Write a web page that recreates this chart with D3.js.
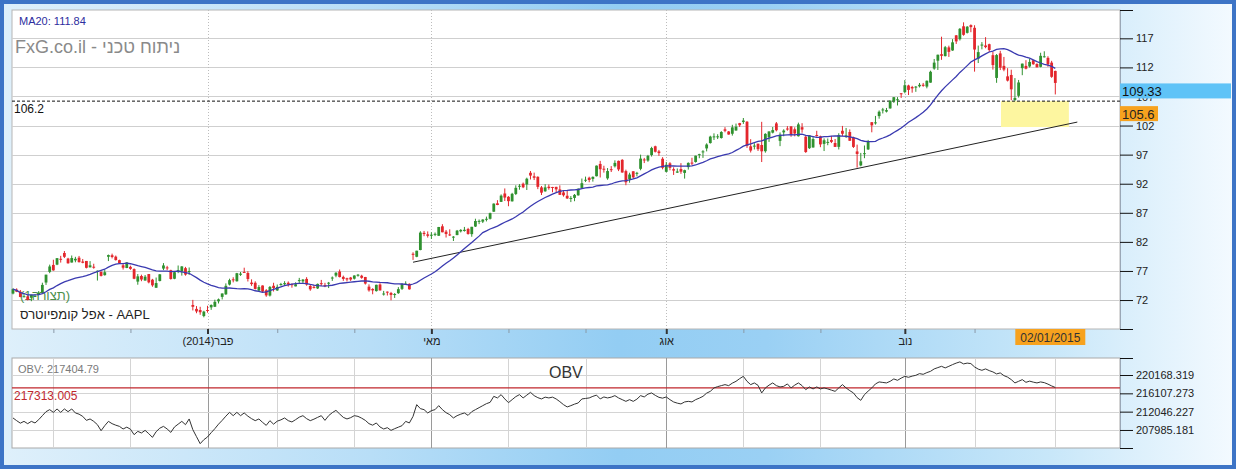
<!DOCTYPE html>
<html><head><meta charset="utf-8">
<script src="https://cdn.jsdelivr.net/npm/d3@7"></script>
<style>body{margin:0;background:#fff}svg{display:block;font-family:"Liberation Sans",Arial,sans-serif}</style>
</head><body><svg id="c" width="1236" height="469"></svg>
<script>
// ---- daily candles, 14 Nov 2013 .. 02 Jan 2015 (index = trading day) ----
const opens = [
73.12,73.78,73.43,72.59,72.62,72.39,72.66,72.87,73.30,75.01,
76.85,78.04,78.09,79.09,80.09,79.13,78.45,78.82,79.28,78.62,
78.72,77.62,77.73,76.88,76.85,76.28,79.44,79.70,79.46,78.86,
77.97,77.51,77.71,77.32,75.17,76.13,75.35,76.47,75.50,74.11,
75.28,77.41,77.61,77.13,75.66,77.05,76.91,77.48,76.93,71.15,
70.48,70.28,69.25,70.29,70.74,70.85,
71.78,72.54,72.98,74.66,75.56,75.23,76.34,76.83,76.65,75.00,
74.97,73.62,74.50,73.68,72.77,74.45,73.65,74.72,74.71,74.97,
74.73,74.35,75.34,75.21,75.63,74.41,74.26,74.00,74.90,74.56,
74.85,75.77,76.20,76.90,75.98,75.75,75.87,75.67,76.32,76.18,
75.96,74.30,73.90,73.54,74.67,73.03,73.44,73.21,72.90,73.18,
73.92,74.82,74.79,79.95,79.44,80.60,83.55,83.29,83.13,83.36,
83.05,84.68,83.76,
83.28,82.76,83.17,83.81,83.88,84.21,83.33,84.64,85.58,85.48,
85.88,85.97,87.19,88.63,88.88,90.32,89.75,88.97,90.24,91.48,
92.00,91.87,93.88,93.28,93.19,91.37,90.69,91.48,91.44,91.46,
91.02,90.50,89.93,89.40,89.56,90.00,91.27,92.68,93.03,92.83,
93.29,95.40,94.58,92.92,94.50,95.00,95.93,96.10,94.17,92.78,
94.14,93.83,94.56,96.17,95.98,96.94,98.44,97.55,96.29,94.05,
95.50,94.50,93.90,
94.52,93.86,94.86,95.63,95.74,96.91,97.48,98.07,98.99,100.01,
100.14,99.86,101.35,100.98,100.59,101.15,102.42,102.62,102.66,98.43,
98.38,98.88,98.66,97.59,99.98,100.78,102.37,99.37,100.83,101.49,
101.85,101.36,100.17,101.72,100.08,98.11,98.23,100.38,100.16,98.85,
99.02,99.52,99.00,98.34,101.10,100.26,100.89,99.96,97.55,95.14,
97.08,97.90,102.58,102.40,103.63,104.73,104.40,104.95,106.20,106.50,
107.55,107.75,108.89,108.63,
108.60,108.75,109.02,108.70,109.38,111.80,113.15,114.27,113.94,115.44,
114.91,117.51,116.85,119.07,117.94,119.27,118.81,113.50,115.75,115.77,
115.99,114.10,110.19,114.41,112.26,110.46,110.70,106.37,107.12,111.87,
112.26,112.16,113.23,112.58,112.10,113.79,113.64,112.82,111.39];
const highs = [
74.02,74.01,73.73,73.20,72.79,72.90,73.02,73.54,74.98,76.36,
78.09,78.93,79.21,79.60,80.43,79.26,79.66,79.43,79.58,79.06,
78.72,78.69,78.24,77.09,76.92,77.15,79.82,79.98,79.65,78.94,
78.33,78.50,77.91,77.44,76.47,76.36,76.30,76.48,75.64,75.87,
76.46,78.35,77.88,77.21,76.93,77.94,77.83,77.70,77.60,72.03,
70.96,70.84,70.15,71.01,71.25,72.06,
72.26,73.13,74.86,75.67,75.92,76.67,76.82,77.56,76.96,75.56,
75.22,74.56,74.52,73.88,74.41,74.97,74.67,74.95,75.24,75.20,
74.85,75.05,75.81,75.61,75.93,74.70,74.57,74.84,75.46,74.96,
75.11,76.05,76.79,77.25,76.20,75.84,75.97,76.25,76.48,76.34,
75.98,74.70,74.03,74.64,74.89,73.57,73.47,73.40,73.20,74.22,
74.88,75.22,74.86,80.21,80.48,83.83,83.88,83.80,83.66,83.62,
84.57,85.04,84.05,
84.16,83.00,84.05,84.19,84.57,84.41,84.59,85.98,85.85,85.89,
86.34,87.03,88.61,89.17,90.16,91.19,89.87,90.43,91.73,91.94,
92.20,93.04,94.19,93.91,93.27,91.61,91.92,91.87,91.46,91.47,
91.72,90.80,90.91,89.88,90.23,91.17,92.89,93.22,93.21,93.25,
95.13,95.93,95.09,94.69,95.03,96.02,95.98,96.23,94.42,93.89,
94.15,94.04,97.00,96.44,96.96,98.35,98.54,97.81,96.57,95.75,
95.71,94.82,94.62,
95.54,94.41,95.67,96.46,96.82,97.15,97.77,98.95,100.25,100.66,
100.51,101.04,101.73,101.06,102.13,102.34,102.46,103.30,102.76,99.66,
98.96,98.89,102.64,100.68,101.00,101.75,102.61,100.82,101.36,101.91,
101.91,101.70,102.50,102.41,100.28,100.32,100.01,101.10,100.26,99.79,
99.78,100.22,99.69,100.68,101.94,101.59,101.34,100.09,98.72,97.30,
98.57,99.53,102.58,103.66,104.60,105.04,105.03,106.29,106.91,106.89,
107.58,109.82,109.02,108.83,
108.79,109.32,109.33,109.75,111.43,113.45,114.19,117.28,115.69,115.74,
116.86,117.57,118.77,119.75,119.10,119.40,119.25,115.75,116.35,117.20,
116.08,114.65,114.30,114.85,113.80,111.87,111.60,110.16,109.84,112.65,
113.24,113.49,113.33,112.71,114.52,114.77,113.92,113.13,111.44];
const lows = [
72.98,73.36,72.48,72.45,71.94,71.80,72.52,72.87,73.29,74.60,
76.62,77.04,78.00,78.44,79.22,78.26,78.45,78.49,78.46,78.32,
77.44,77.62,77.39,75.35,76.05,76.20,78.70,79.16,78.79,78.25,
77.24,77.48,77.20,75.58,74.63,75.24,75.34,74.87,74.28,74.11,
75.20,77.15,77.15,75.51,75.58,76.62,76.20,76.19,76.32,70.21,
69.73,69.47,69.03,69.83,70.31,70.80,
71.41,72.10,72.89,74.51,75.04,75.17,76.15,76.77,75.19,74.44,
73.82,73.51,73.31,72.56,72.61,73.47,73.57,74.46,74.46,74.31,
74.12,74.35,74.94,74.86,74.46,73.59,73.99,73.90,74.44,74.21,
74.06,75.29,75.92,75.89,75.30,75.18,75.29,75.53,76.02,75.66,
74.66,73.44,72.99,73.45,73.62,72.77,72.78,71.95,72.36,73.06,
73.73,74.58,73.79,78.90,79.36,80.56,82.98,82.74,82.51,82.99,
83.03,83.65,82.75,
83.02,82.15,83.15,83.62,83.77,83.24,82.88,84.56,85.05,85.24,
85.52,85.85,87.16,88.31,88.87,89.03,88.13,88.94,90.05,90.97,
91.24,90.92,92.73,92.63,91.07,90.06,90.63,90.97,90.53,90.52,
90.08,89.78,89.38,88.84,88.99,89.95,91.26,92.29,92.25,92.36,
93.25,93.07,93.91,92.68,94.01,94.79,94.17,93.89,91.74,92.18,
92.88,93.27,94.31,95.55,95.77,96.67,97.37,96.79,94.47,93.96,
94.31,93.51,93.86,
93.70,92.88,94.43,95.20,95.63,96.38,96.44,97.56,98.90,99.52,
99.68,99.76,100.85,100.43,100.27,101.12,101.76,102.28,98.16,97.37,
97.89,97.63,95.73,97.34,99.19,100.65,101.00,98.46,100.16,101.12,
100.07,100.15,100.11,100.77,97.30,97.98,98.21,100.10,98.28,97.62,
98.62,98.99,98.31,97.89,100.18,99.87,99.38,98.15,94.77,95.00,
96.39,97.80,100.84,102.16,103.18,104.08,104.25,104.90,105.90,105.45,
106.75,107.54,107.25,107.65,
107.80,108.55,108.67,108.40,109.37,111.60,111.56,113.30,113.89,113.80,
114.85,116.03,116.62,117.45,117.83,118.05,111.27,112.75,115.11,115.29,
114.64,111.62,109.35,111.54,111.34,109.58,106.35,106.26,106.82,110.66,
111.66,111.97,112.46,112.01,112.01,113.70,112.11,110.21,107.35];
const closes = [
73.87,73.43,72.53,72.66,72.03,72.89,72.70,73.25,74.60,76.36,
77.77,77.10,79.20,79.02,79.43,78.32,79.22,79.09,78.51,78.40,
77.54,77.97,77.62,77.03,76.15,76.78,79.73,79.40,78.87,78.33,
77.56,78.47,77.36,75.66,76.07,75.53,76.01,75.04,74.53,74.92,
76.42,77.95,77.52,75.62,76.79,77.14,77.78,76.37,76.99,70.84,
70.04,69.90,70.01,70.14,71.15,71.69,
72.12,73.13,74.44,75.42,75.41,76.61,76.54,76.82,75.62,74.74,
73.91,74.23,73.46,72.80,74.25,74.05,74.26,74.75,74.91,74.68,
74.64,74.71,75.43,75.51,74.67,73.84,74.12,74.77,74.75,74.40,
74.98,75.87,76.69,75.95,75.63,75.54,75.53,76.22,76.35,75.82,
74.83,73.66,73.66,74.62,73.66,73.12,73.41,72.88,73.03,73.87,
74.74,74.82,73.84,79.89,80.48,83.60,83.35,83.04,83.23,83.38,
84.56,83.65,83.35,
83.24,82.90,83.93,84.06,84.08,83.36,84.59,85.59,85.61,85.84,
85.97,86.94,88.58,88.34,89.95,89.62,89.00,90.26,91.29,91.65,
91.39,92.86,93.40,93.02,91.46,90.46,91.37,91.25,91.35,91.03,
90.09,90.01,89.47,89.55,90.08,91.15,92.09,92.68,92.64,93.18,
95.11,94.49,94.53,94.18,94.36,95.58,94.46,93.93,92.25,93.58,
93.09,93.87,96.32,96.16,96.79,98.13,97.49,97.27,94.74,95.26,
94.73,94.26,94.11,
94.07,94.33,95.58,95.56,96.82,97.08,97.56,98.74,100.10,100.14,
100.15,100.89,101.10,100.46,101.69,101.81,102.06,102.86,98.52,97.70,
98.55,97.94,97.57,100.57,100.99,101.22,101.19,100.43,101.14,101.35,
100.53,100.63,102.20,101.31,97.45,100.32,99.68,100.32,98.76,99.47,
99.19,99.19,98.33,100.37,100.59,100.30,99.38,98.33,97.12,95.85,
97.25,99.33,102.03,102.55,104.38,104.77,104.66,106.29,106.88,106.52,
107.54,108.93,108.13,108.39,
108.70,109.01,108.83,109.70,111.25,112.82,114.18,113.99,115.47,114.67,
116.31,116.47,118.63,117.60,119.00,118.93,115.07,114.63,115.93,115.49,
115.00,112.40,114.12,111.95,111.62,109.73,108.23,106.75,109.41,112.65,
111.78,112.94,112.54,112.01,113.99,113.91,112.52,110.38,109.33];
// ---- OBV, same days ----
const obv = [
210648,210049,209494,209894,209383,209894,209539,210271,211159,212046,
212490,211891,212645,211891,212645,212046,212645,211758,211491,211003,
210116,210426,209894,209161,207830,208940,209894,209383,209050,208784,
208207,208607,208163,206942,207675,207320,207897,207164,206343,207608,
208385,208784,208207,207453,208651,209272,209894,209161,210426,208052,
206499,204945,205833,206432,207386,208274,209272,210116,211048,211891,
211159,211891,211159,211758,211048,210493,210049,210426,209672,209006,
210049,209272,209938,210227,210648,210049,209761,210271,210826,211159,
210493,210049,210382,210781,211159,210116,211159,211824,212335,211536,
210781,210426,210715,211159,211003,210604,210116,209383,209050,209539,
208651,208207,208496,207897,208274,208607,208940,209894,209539,211003,
213599,212712,212490,211758,212268,212490,213378,212490,211824,211380,
210648,211159,211491,211758,211225,212046,212490,212934,213378,213821,
214110,215441,215086,215819,214864,214043,214709,215375,215819,215086,
215708,216329,215597,215153,214864,215264,215086,215264,214864,214265,
213599,213089,213378,213710,213977,214864,214975,215086,215441,215708,
214864,215308,215086,215264,215597,215086,214709,214332,214709,214332,
214820,215597,215308,215929,216196,215663,215219,215042,215308,214709,
214199,213932,213755,214199,214332,214199,214709,215042,215441,216151,
216551,217305,217594,217816,218038,217816,218370,218770,219369,219879,
218770,218038,218415,217882,216196,217305,217927,218415,217816,217527,
217660,218193,217305,217927,218415,217816,216928,217527,217083,217527,
217083,217305,217083,216817,216551,217305,218038,217305,216706,216196,
215153,214554,215819,216595,217305,218193,218637,218526,218415,218770,
219302,218992,219480,219879,219657,219924,220101,220478,220323,220700,
220989,221521,221810,222098,221743,222098,222476,222808,223075,222631,
222808,222697,221965,221477,221211,221521,221144,220856,220412,220634,
220035,219702,219147,218415,218770,219147,218548,218814,218592,218415,
218637,218481,218149,217749,217404.79];

const priceTicks = [72,77,82,87,92,97,102,107,112,117];
const obvTicks = [207985.181,212046.227,216107.273,220168.319];
const monthTicks = [11,32,53,72,93,114,135,156,178,199,220,243,262,284];
const majorTicks = [53,114,178,243];
const majorLabels = ["פבר(2014)","מאי","אוג","נוב"];
const lastDateLabel = "02/01/2015";
const supportLevel = 106.2;
const targetLevel = 105.6;
const obvRef = 217313.005;
const trendLine = [[109,78.5],[290,102.6]];
const zoneX = [269.2,287.7];
const zoneY = [106.2,101.75];
const maPeriod = 20;

// ---- layout ----
const W=1236,H=469, L=12, R=1120, T=10, B=329, OT=358, OB=448;
const svg=d3.select("#c");
const defs=svg.append("defs");
const g1=defs.append("linearGradient").attr("id","bg").attr("x1",0).attr("x2",1).attr("y1",0).attr("y2",0);
[[0,"#dff0fb"],[0.3,"#b8def7"],[0.5,"#93cdf3"],[0.62,"#9ad0f4"],[0.85,"#c8e7f9"],[1,"#f4faff"]]
 .forEach(([o,c])=>g1.append("stop").attr("offset",o).attr("stop-color",c));
svg.append("rect").attr("width",W).attr("height",H).attr("fill","url(#bg)");
svg.append("rect").attr("x",2).attr("y",2).attr("width",W-4).attr("height",H-4)
  .attr("fill","none").attr("stroke","#3d74c6").attr("stroke-width",4);

const x=d3.scaleLinear().domain([0,284]).range([13,1055.3]);
const y=d3.scaleLinear().domain([67.02,121.87]).range([B,T]);
const yo=d3.scaleLinear().domain([203990,223940]).range([OB,OT]);

// main plot background
svg.append("rect").attr("x",L).attr("y",T).attr("width",R-L).attr("height",B-T).attr("fill","#fff").attr("stroke","#b5b5b5");
const gm=svg.append("g");
gm.selectAll(".hg").data(priceTicks).join("line").attr("x1",L).attr("x2",R)
  .attr("y1",d=>Math.round(y(d))+0.5).attr("y2",d=>Math.round(y(d))+0.5).attr("stroke","#cfcfcf");
gm.selectAll(".vg").data(majorTicks).join("line").attr("y1",T).attr("y2",B)
  .attr("x1",d=>Math.round(x(d))+0.5).attr("x2",d=>Math.round(x(d))+0.5)
  .attr("stroke","#bdbdbd").attr("stroke-dasharray","1,2");

// support zone
gm.append("rect").attr("x",x(zoneX[0])).attr("width",x(zoneX[1])-x(zoneX[0]))
  .attr("y",y(zoneY[0])).attr("height",y(zoneY[1])-y(zoneY[0])).attr("fill","#fdf6a0");
// support dashed line
gm.append("line").attr("x1",L).attr("x2",R).attr("y1",y(supportLevel)).attr("y2",y(supportLevel))
  .attr("stroke","#111").attr("stroke-dasharray","3,2");
gm.append("text").attr("x",14).attr("y",y(supportLevel)+12).attr("font-size",12).attr("fill","#111").text(String(supportLevel));

// labels under candles
gm.append("text").attr("x",20).attr("y",300).attr("font-size",13).attr("fill","#4b8f4b").text("(1תצורה)");

// trend line
gm.append("line").attr("x1",x(trendLine[0][0])).attr("y1",y(trendLine[0][1]))
  .attr("x2",x(trendLine[1][0])).attr("y2",y(trendLine[1][1])).attr("stroke","#222").attr("stroke-width",1);

// candles
const idx=d3.range(closes.length);
const up="#2f912f", dn="#e3262c";
const col=i=>closes[i]>=opens[i]?up:dn;
gm.selectAll(".wk").data(idx).join("line")
  .attr("x1",i=>x(i)).attr("x2",i=>x(i)).attr("y1",i=>y(highs[i])).attr("y2",i=>y(lows[i]))
  .attr("stroke",col).attr("stroke-width",1);
gm.selectAll(".bd").data(idx).join("rect")
  .attr("x",i=>x(i)-1.4).attr("width",2.8)
  .attr("y",i=>y(Math.max(opens[i],closes[i])))
  .attr("height",i=>Math.max(1,Math.abs(y(opens[i])-y(closes[i]))))
  .attr("fill",col);

// MA20
const ma=idx.map(i=>d3.mean(closes.slice(Math.max(0,i-maPeriod+1),i+1)));
gm.append("path").datum(idx).attr("fill","none").attr("stroke","#3a3ab0").attr("stroke-width",1.3)
  .attr("d",d3.line().x(i=>x(i)).y(i=>y(ma[i])));

// texts
svg.append("text").attr("x",19).attr("y",25).attr("font-size",11).attr("fill","#2d2d9e")
  .text("MA20: "+ma[ma.length-1].toFixed(2));
svg.append("text").attr("x",15).attr("y",53).attr("font-size",18).attr("fill","#8a8a8a").text("FxG.co.il - ניתוח טכני");
svg.append("text").attr("x",20).attr("y",319).attr("font-size",13).attr("fill","#222").text("אפל  קומפיוטרס - AAPL");

// right price axis
const yAx=d3.axisRight(y).tickValues([y.domain()[0],...priceTicks,y.domain()[1]])
  .tickSize(13).tickSizeOuter(0).tickFormat(d=>priceTicks.includes(d)?d:"");
const ga=svg.append("g").attr("transform",`translate(${R},0)`).call(yAx);
ga.select(".domain").attr("stroke","#9aa7b6");
ga.selectAll(".tick line").attr("stroke","#111");
ga.selectAll(".tick text").attr("font-size",11).attr("fill","#222").attr("font-family","Liberation Sans, Arial");

// price boxes
const last=closes[closes.length-1];
svg.append("rect").attr("x",R).attr("y",y(last)+0.5).attr("width",111).attr("height",15).attr("fill","#5fc3f7");
svg.append("text").attr("x",R+2).attr("y",y(last)+13).attr("font-size",13).attr("fill","#111").text(last.toFixed(2));
svg.append("rect").attr("x",R).attr("y",y(targetLevel)+1.5).attr("width",38).attr("height",15).attr("fill","#f7a21e");
svg.append("text").attr("x",R+2).attr("y",y(targetLevel)+14).attr("font-size",13).attr("fill","#222").text(String(targetLevel));

// x axis band
const xAx=d3.axisBottom(x).tickValues(monthTicks).tickSizeInner(4).tickSizeOuter(0)
  .tickFormat(d=>{const k=majorTicks.indexOf(d);return k>=0?majorLabels[k]:"";});
const gx=svg.append("g").attr("transform",`translate(0,${B})`).call(xAx);
gx.select(".domain").remove();
gx.selectAll(".tick line").attr("stroke","#8a9aa8");
gx.selectAll(".tick").filter(d=>majorTicks.includes(d)).select("line").attr("stroke","#333").attr("stroke-width",2).attr("y2",5);
gx.selectAll(".tick text").attr("font-size",11).attr("fill","#222").attr("y",8).attr("font-family","Liberation Sans, Arial")
  .filter(d=>d===majorTicks[0]).attr("direction","rtl");
// last date box
svg.append("rect").attr("x",x(284)-40).attr("y",B).attr("width",70).attr("height",16).attr("fill","#f7a21e");
svg.append("text").attr("x",x(284)-5).attr("y",B+12.5).attr("text-anchor","middle").attr("font-size",12).attr("fill","#333").text(lastDateLabel);

// ---- OBV panel ----
svg.append("rect").attr("x",L).attr("y",OT).attr("width",R-L).attr("height",OB-OT).attr("fill","#fff").attr("stroke","#a9a9a9");
const go=svg.append("g");
go.selectAll(".ovg").data(monthTicks).join("line").attr("y1",OT).attr("y2",OB)
  .attr("x1",d=>Math.round(x(d))+0.5).attr("x2",d=>Math.round(x(d))+0.5)
  .attr("stroke",d=>majorTicks.includes(d)?"#9a9a9a":"#d4d4d4");
go.selectAll(".ohg").data(obvTicks).join("line").attr("x1",L).attr("x2",R)
  .attr("y1",d=>Math.round(yo(d))+0.5).attr("y2",d=>Math.round(yo(d))+0.5).attr("stroke","#d4d4d4");
go.append("line").attr("x1",L).attr("x2",R).attr("y1",yo(obvRef)).attr("y2",yo(obvRef)).attr("stroke","#c0272d").attr("stroke-width",1.2);
go.append("path").datum(idx).attr("fill","none").attr("stroke","#333").attr("stroke-width",1)
  .attr("d",d3.line().x(i=>x(i)).y(i=>yo(obv[i])));
go.append("text").attr("x",18).attr("y",373).attr("font-size",11).attr("fill","#7a7a7a").text("OBV: "+obv[obv.length-1]);
go.append("text").attr("x",549).attr("y",378).attr("font-size",16).attr("fill","#333").text("OBV");
go.append("text").attr("x",14).attr("y",yo(obvRef)+12).attr("font-size",12).attr("fill","#c0272d").text(obvRef.toFixed(3));

const oAx=d3.axisRight(yo).tickValues([yo.domain()[0],...obvTicks,yo.domain()[1]])
  .tickSize(13).tickSizeOuter(0).tickFormat(d=>obvTicks.includes(d)?d3.format(".3f")(d):"");
const gao=svg.append("g").attr("transform",`translate(${R},0)`).call(oAx);
gao.select(".domain").attr("stroke","#9aa7b6");
gao.selectAll(".tick line").attr("stroke","#111");
gao.selectAll(".tick text").attr("font-size",11).attr("fill","#222").attr("font-family","Liberation Sans, Arial");
</script></body></html>
